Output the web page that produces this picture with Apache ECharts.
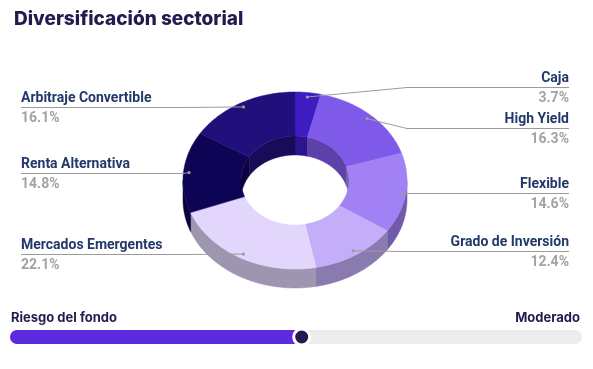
<!DOCTYPE html>
<html>
<head>
<meta charset="utf-8">
<script src="https://cdn.jsdelivr.net/npm/echarts@6/dist/echarts.min.js"></script>
<style>html,body{margin:0;padding:0;background:#fff}#c{width:593px;height:369px}</style>
</head>
<body>
<div id="c"></div>
<script>
// ---- data ----
const titleText = 'Diversificación sectorial';
const categories = ['Caja', 'High Yield', 'Flexible', 'Grado de Inversión', 'Mercados Emergentes', 'Renta Alternativa', 'Arbitraje Convertible'];
const values = [3.7, 16.3, 14.6, 12.4, 22.1, 14.8, 16.1];
const riskTitle = 'Riesgo del fondo';
const riskLabel = 'Moderado';
const riskValue = [51];
const riskMax = 100;

// ---- style ----
const colors = ['#3d1cc2', '#7f5ae9', '#a281f4', '#c4aefa', '#e2d6fd', '#0e0456', '#21107c'];
const nameColor = '#22396a';
const valueColor = '#a3a3a3';
const lineColor = '#9b9b9b';
const CX = 295, CY = 180.5, RX = 112, RY = 88.5, IRX = 54, IRY = 44.5, DEPTH = 19;
const LEFT_X = 21, RIGHT_X = 569, MIN_GAP = 41;

function shade(hex, f) {
  const n = parseInt(hex.slice(1), 16);
  const r = Math.round(((n >> 16) & 255) * f), g = Math.round(((n >> 8) & 255) * f), b = Math.round((n & 255) * f);
  return 'rgb(' + r + ',' + g + ',' + b + ')';
}
function pt(rx, ry, t, dy) {
  const a = t * Math.PI / 180;
  return [CX + rx * Math.sin(a), CY - ry * Math.cos(a) + (dy || 0)];
}
function arc(rx, ry, a0, a1, dy) {
  const pts = [];
  const n = Math.max(2, Math.ceil(Math.abs(a1 - a0)));
  for (let i = 0; i <= n; i++) pts.push(pt(rx, ry, a0 + (a1 - a0) * i / n, dy));
  return pts;
}
function clip(a0, a1, b0, b1) {
  const s = Math.max(a0, b0), e = Math.min(a1, b1);
  return e > s ? [s, e] : null;
}

const total = values.reduce((a, b) => a + b, 0);
let acc = 0;
const geo = values.map((v, i) => {
  const a0 = acc / total * 360;
  acc += v;
  const a1 = acc / total * 360;
  const mid = (a0 + a1) / 2;
  const dot = pt(RX * 0.95, RY * 0.95, mid);
  return { a0, a1, mid, dot, right: Math.sin(mid * Math.PI / 180) > 0, ly: dot[1] };
});
// label anti-overlap per side
[true, false].forEach(side => {
  const items = geo.filter(g => g.right === side).sort((a, b) => a.ly - b.ly);
  for (let it = 0; it < 50; it++) {
    for (let k = 0; k < items.length - 1; k++) {
      const d = items[k + 1].ly - items[k].ly;
      if (d < MIN_GAP) {
        const m = (MIN_GAP - d) / 2;
        items[k].ly -= m; items[k + 1].ly += m;
      }
    }
  }
});

function renderDonut(params, api) {
  const i = params.dataIndex;
  const g = geo[i];
  const col = colors[i];
  const ch = [];
  const top = arc(RX, RY, g.a0, g.a1).concat(arc(IRX, IRY, g.a1, g.a0));
  ch.push({ type: 'polygon', z2: 10, shape: { points: top }, style: { fill: col, stroke: col, lineWidth: 0.5 } });
  const os = clip(g.a0, g.a1, 90, 270);
  if (os) {
    const p = arc(RX, RY, os[0], os[1]).concat(arc(RX, RY, os[1], os[0], DEPTH));
    ch.push({ type: 'polygon', z2: 2, shape: { points: p }, style: { fill: shade(col, 0.7), stroke: shade(col, 0.7), lineWidth: 0.5 } });
  }
  [[0, 90], [270, 360]].forEach(r => {
    const is = clip(g.a0, g.a1, r[0], r[1]);
    if (is) {
      const p = arc(IRX, IRY, is[0], is[1]).concat(arc(IRX, IRY, is[1], is[0], DEPTH));
      ch.push({ type: 'polygon', z2: 1, shape: { points: p }, style: { fill: shade(col, 0.72), stroke: shade(col, 0.72), lineWidth: 0.5 } });
    }
  });
  const ly = Math.round(g.ly) + 0.5;
  let pts, tx, align;
  if (g.right) {
    pts = [[g.dot[0], g.dot[1]], [CX + RX, ly], [RIGHT_X, ly]];
    tx = RIGHT_X; align = 'right';
  } else {
    pts = [[g.dot[0], g.dot[1]], [CX - RX, ly], [LEFT_X, ly]];
    tx = LEFT_X; align = 'left';
  }
  ch.push({ type: 'polyline', z2: 20, shape: { points: pts }, style: { stroke: lineColor, lineWidth: 1, fill: null } });
  ch.push({ type: 'circle', z2: 21, shape: { cx: g.dot[0], cy: g.dot[1], r: 1.6 }, style: { fill: lineColor } });
  ch.push({ type: 'text', z2: 22, x: tx, y: ly - 2,
    style: { text: categories[i], fill: nameColor, fontFamily: 'Roboto', fontWeight: 'bold', fontSize: 14, align: align, verticalAlign: 'bottom' } });
  ch.push({ type: 'text', z2: 22, x: tx, y: ly + 4,
    style: { text: api.value(0).toFixed(1) + '%', fill: valueColor, fontFamily: 'Roboto', fontWeight: 'bold', fontSize: 14, align: align, verticalAlign: 'top' } });
  return { type: 'group', children: ch };
}

const chart = echarts.init(document.getElementById('c'), null, { renderer: 'canvas' });
chart.setOption({
  animation: false,
  title: { text: titleText, left: 9, top: 5, textStyle: { fontFamily: 'Inter', fontWeight: 800, fontSize: 19, color: '#231a4e' } },
  graphic: [
    { type: 'text', left: 11, top: 312, style: { text: riskTitle, fill: '#231a4e', fontFamily: 'Inter', fontWeight: 'bold', fontSize: 13 } },
    { type: 'text', right: 13, top: 312, style: { text: riskLabel, fill: '#231a4e', fontFamily: 'Inter', fontWeight: 'bold', fontSize: 13 } }
  ],
  grid: { left: 10, right: 11, top: 330, height: 14 },
  xAxis: { type: 'value', min: 0, max: riskMax, show: false },
  yAxis: { type: 'category', data: [riskTitle], show: false },
  series: [
    { type: 'custom', coordinateSystem: 'none', renderItem: renderDonut, data: values.map(v => [v]), silent: true },
    { type: 'bar', data: riskValue, barWidth: 14, showBackground: true,
      backgroundStyle: { color: '#ececec', borderRadius: 7 },
      itemStyle: { color: '#5b2be0', borderRadius: 7 }, silent: true },
    { type: 'scatter', data: riskValue.map(v => [v, 0]), symbolSize: 16, z: 5,
      itemStyle: { color: '#241a52', borderColor: '#ffffff', borderWidth: 3, opacity: 1 }, silent: true }
  ]
});
</script>
</body>
</html>
